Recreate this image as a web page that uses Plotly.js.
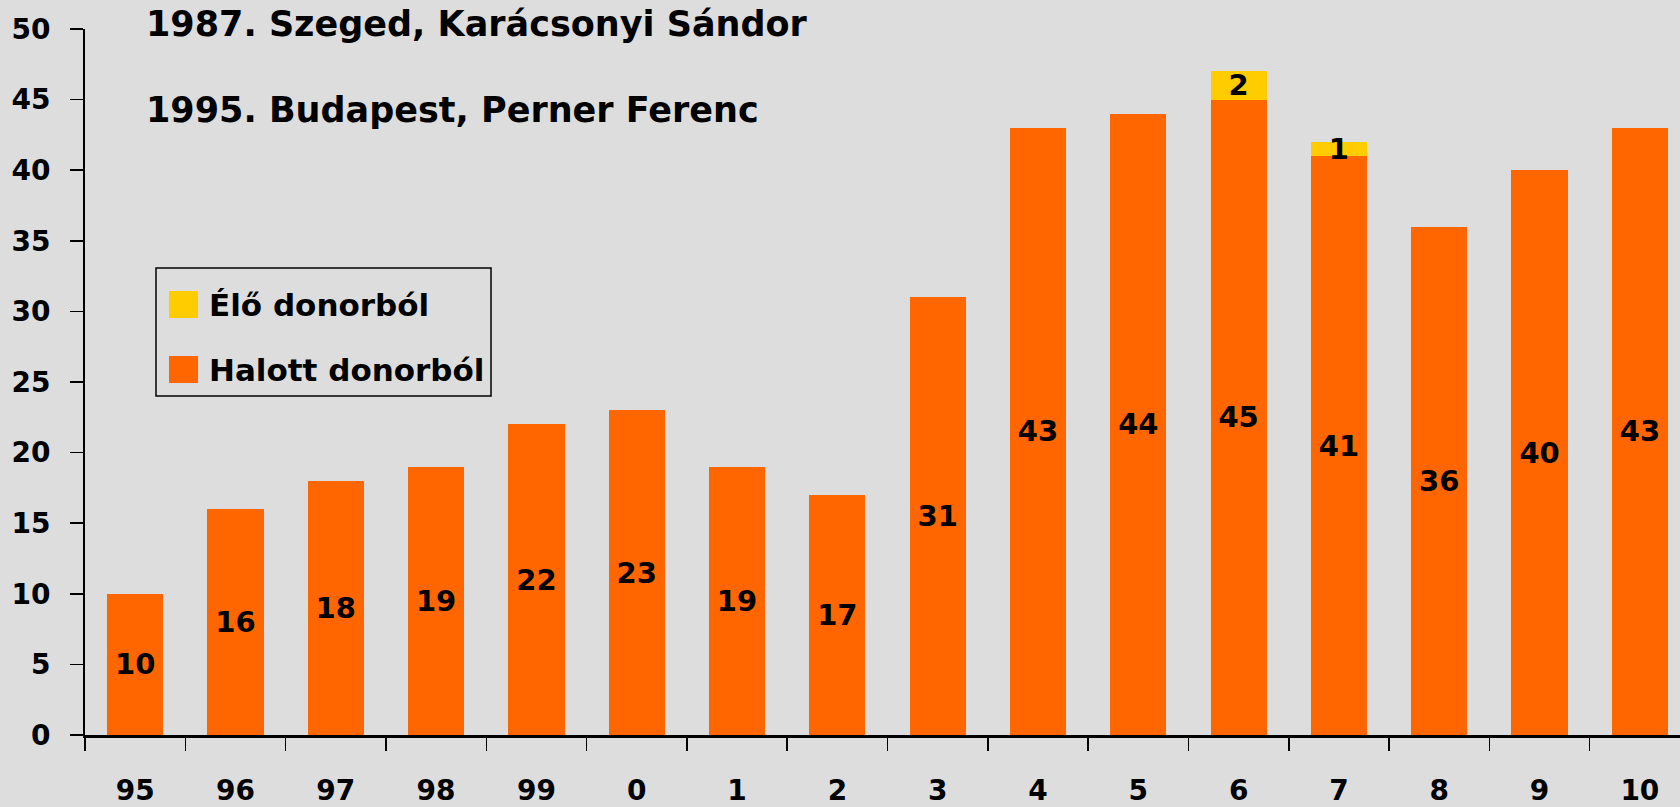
<!DOCTYPE html>
<html>
<head>
<meta charset="utf-8">
<script src="https://cdn.plot.ly/plotly-3.0.1.min.js"></script>
<style>html,body{margin:0;padding:0;background:#dddddd;}#chart{width:1680px;height:807px;}</style>
</head>
<body>
<div id="chart"></div>
<script>
// ---- data ----
const years = ['95','96','97','98','99','0','1','2','3','4','5','6','7','8','9','10'];
const halott = [10,16,18,19,22,23,19,17,31,43,44,45,41,36,40,43];
const elo    = [0,0,0,0,0,0,0,0,0,0,0,2,1,0,0,0];
const seriesNames = ['Élő donorból', 'Halott donorból'];
const titleLines = ['1987. Szeged, Karácsonyi Sándor', '1995. Budapest, Perner Ferenc'];

// ---- style ----
const FONT = '"DejaVu Sans", sans-serif';
const ORANGE = '#FF6600', YELLOW = '#FFCC00', BG = '#dddddd';
const W = 1680, H = 807, ML = 85, MR = 0, MT = 29, MB = 72;
const pw = W - ML - MR, ph = H - MT - MB;
const px = x => (x - ML) / pw;          // pixel -> paper x
const py = y => (H - MB - y) / ph;      // pixel -> paper y

const traces = [
  {type:'bar', x: years, y: halott, name: seriesNames[1], marker:{color: ORANGE},
   text: halott.map(v => v ? String(v) : ''), textposition:'inside', insidetextanchor:'middle',
   textangle:0, constraintext:'none', textfont:{family:FONT, size:29, color:'#000', weight:'bold'},
   hoverinfo:'x+y', showlegend:false},
  {type:'bar', x: years, y: elo, name: seriesNames[0], marker:{color: YELLOW},
   text: elo.map(v => v ? String(v) : ''), textposition:'inside', insidetextanchor:'middle',
   textangle:0, constraintext:'none', textfont:{family:FONT, size:29, color:'#000', weight:'bold'},
   hoverinfo:'x+y', showlegend:false, cliponaxis:false}
];

const annotations = [
  {xref:'paper', yref:'paper', x: px(144), y: py(24), xanchor:'left', yanchor:'middle',
   text: titleLines[0], showarrow:false, font:{family:FONT, size:35, color:'#000', weight:'bold'}},
  {xref:'paper', yref:'paper', x: px(144), y: py(110), xanchor:'left', yanchor:'middle',
   text: titleLines[1], showarrow:false, font:{family:FONT, size:35, color:'#000', weight:'bold'}},
  {xref:'paper', yref:'paper', x: px(207), y: py(305), xanchor:'left', yanchor:'middle',
   text: seriesNames[0], showarrow:false, font:{family:FONT, size:31, color:'#000', weight:'bold'}},
  {xref:'paper', yref:'paper', x: px(207), y: py(370), xanchor:'left', yanchor:'middle',
   text: seriesNames[1], showarrow:false, font:{family:FONT, size:31, color:'#000', weight:'bold'}}
];

const shapes = [
  {type:'rect', xref:'paper', yref:'paper', x0: px(156), x1: px(491), y0: py(268), y1: py(396),
   line:{color:'#000', width:1.5}, fillcolor:'rgba(0,0,0,0)'},
  {type:'rect', xref:'paper', yref:'paper', x0: px(169), x1: px(198), y0: py(291), y1: py(318),
   line:{width:0}, fillcolor: YELLOW},
  {type:'rect', xref:'paper', yref:'paper', x0: px(169), x1: px(198), y0: py(356), y1: py(383),
   line:{width:0}, fillcolor: ORANGE}
];

const layout = {
  width: W, height: H,
  margin:{l: ML, r: MR, t: MT, b: MB, pad:0},
  paper_bgcolor: BG, plot_bgcolor: BG,
  barmode:'stack', bargap:0.44,
  font:{family: FONT, size:28, color:'#000', weight:'bold'},
  showlegend:false,
  xaxis:{type:'category', range:[-0.5, 15.4], tickson:'boundaries', ticks:'outside', ticklen:13,
         tickwidth:1.5, tickcolor:'#000', showline:true, linecolor:'#000', linewidth:3,
         showgrid:false, zeroline:false, ticklabelstandoff:28,
         tickfont:{family:FONT, size:28, color:'#000', weight:'bold'}, fixedrange:true},
  yaxis:{range:[0,50], dtick:5, tick0:0, ticks:'outside', ticklen:13, tickwidth:1.5, tickcolor:'#000',
         showline:true, linecolor:'#000', linewidth:2, showgrid:false, zeroline:false,
         ticklabelstandoff:14, tickfont:{family:FONT, size:28, color:'#000', weight:'bold'}, fixedrange:true},
  annotations: annotations,
  shapes: shapes
};

Plotly.newPlot('chart', traces, layout, {displayModeBar:false, staticPlot:true});
</script>
</body>
</html>
